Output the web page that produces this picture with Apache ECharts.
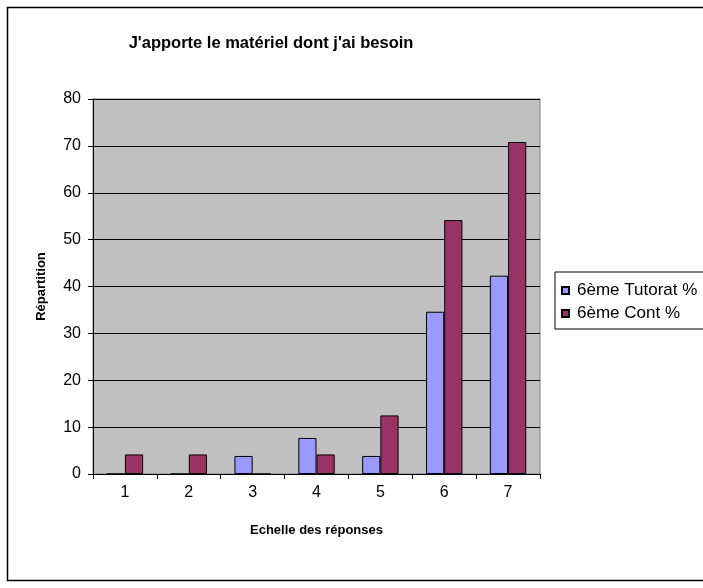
<!DOCTYPE html>
<html><head><meta charset="utf-8">
<script src="https://cdn.jsdelivr.net/npm/echarts@6/dist/echarts.min.js"></script>
<style>html,body{margin:0;padding:0;background:#fff}#c{width:703px;height:588px}</style>
</head><body><div id="c"></div>
<script>
const categories = ['1','2','3','4','5','6','7'];
const tutorat = [0, 0, 3.85, 7.69, 3.85, 34.62, 42.31];
const cont = [4.17, 4.17, 0, 4.17, 12.5, 54.17, 70.83];
const seriesNames = ['6ème Tutorat %', '6ème Cont %'];
const titleText = "J'apporte le matériel dont j'ai besoin";
const xName = 'Echelle des réponses';
const yName = 'Répartition';

const FONT = 'Arial, "Liberation Sans", sans-serif';
const chart = echarts.init(document.getElementById('c'), null, {renderer: 'canvas'});
chart.setOption({
  animation: false,
  backgroundColor: '#fff',
  graphic: [
    {type: 'rect', shape: {x: 7.5, y: 7.5, width: 720, height: 573}, style: {fill: 'none', stroke: '#000', lineWidth: 1.5}, silent: true},
    {type: 'text', x: 271, y: 43, style: {text: titleText, font: 'bold 16.5px ' + FONT, fill: '#000', textAlign: 'center', textVerticalAlign: 'middle'}}
  ],
  grid: {left: 93, top: 99, width: 447, height: 375, show: true, backgroundColor: '#C0C0C0', borderColor: '#808080', borderWidth: 1},
  legend: {
    orient: 'vertical', left: 555, top: 272,
    data: seriesNames,
    itemWidth: 7, itemHeight: 7, itemGap: 6,
    icon: 'rect',
    borderColor: '#000', borderWidth: 1, padding: [10, 14, 7, 6],
    textStyle: {fontFamily: FONT, fontSize: 17, color: '#000', padding: [0, 0, 0, 3]}
  },
  xAxis: {
    type: 'category', data: categories,
    name: xName, nameLocation: 'middle', nameGap: 50,
    nameTextStyle: {fontFamily: FONT, fontSize: 13, fontWeight: 'bold', color: '#000'},
    axisLine: {lineStyle: {color: '#000', width: 1}},
    axisTick: {show: true, length: 5, lineStyle: {color: '#000'}},
    axisLabel: {fontFamily: FONT, fontSize: 16, color: '#000', margin: 11},
    splitLine: {show: false}
  },
  yAxis: {
    type: 'value', min: 0, max: 80, interval: 10,
    name: yName, nameLocation: 'middle', nameGap: 45, nameRotate: 90,
    nameTextStyle: {fontFamily: FONT, fontSize: 13, fontWeight: 'bold', color: '#000'},
    axisLine: {show: true, lineStyle: {color: '#000', width: 1}},
    axisTick: {show: true, length: 5, lineStyle: {color: '#000'}},
    axisLabel: {fontFamily: FONT, fontSize: 16, color: '#000', margin: 12},
    splitLine: {show: true, lineStyle: {color: '#000', width: 1}}
  },
  series: [
    {name: seriesNames[0], type: 'bar', data: tutorat, barGap: '0%', barCategoryGap: '43%',
     itemStyle: {color: '#9999FF', borderColor: '#000', borderWidth: 1}},
    {name: seriesNames[1], type: 'bar', data: cont,
     itemStyle: {color: '#993366', borderColor: '#000', borderWidth: 1}}
  ]
});
</script></body></html>
